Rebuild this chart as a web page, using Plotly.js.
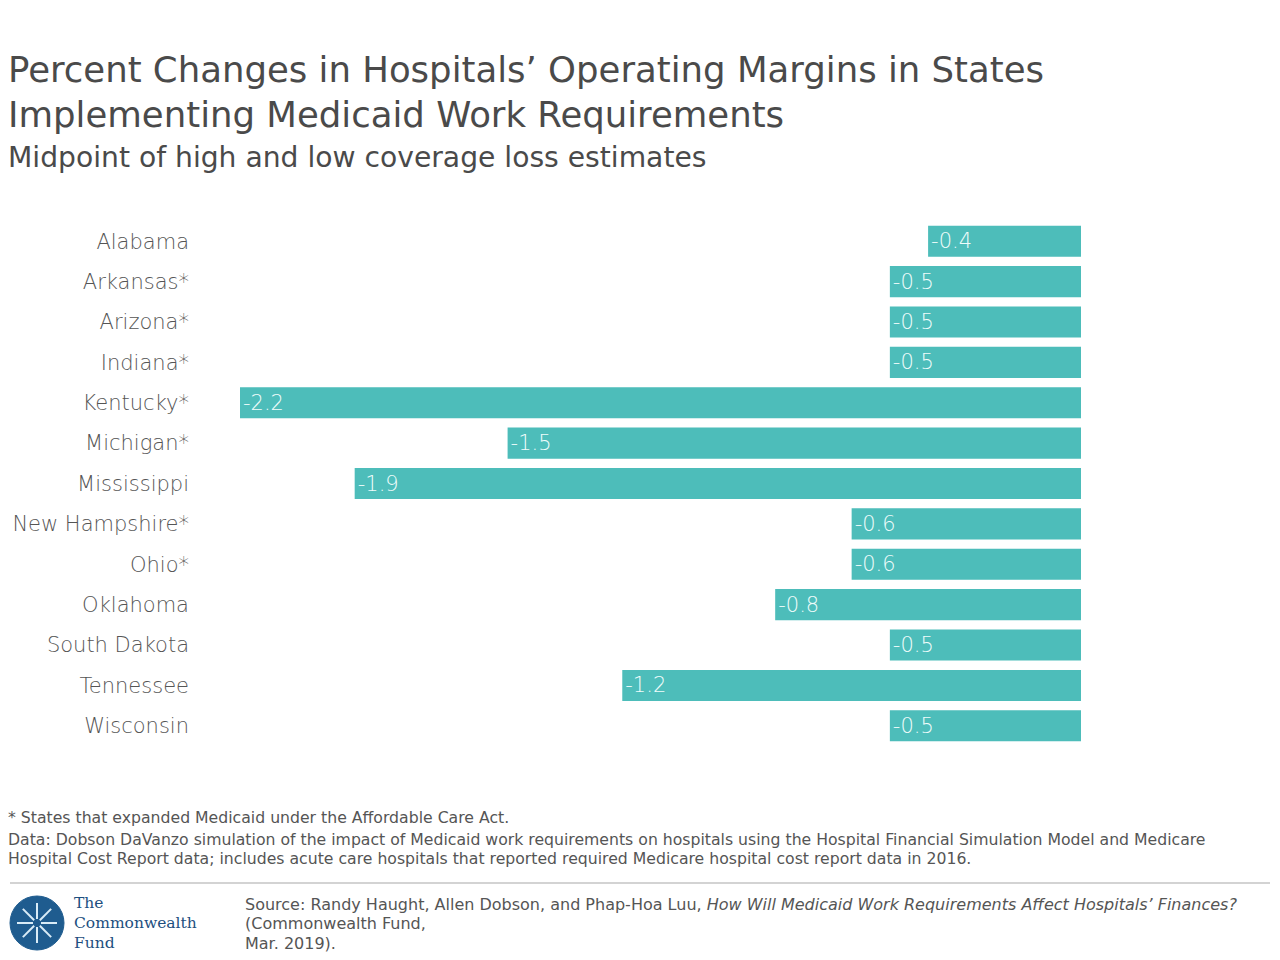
<!DOCTYPE html>
<html><head><meta charset="utf-8">
<script src="https://cdn.plot.ly/plotly-3.0.1.min.js"></script>
<style>html,body{margin:0;padding:0;background:#fff;}#chart{width:1280px;height:960px;}</style>
</head><body><div id="chart"></div>
<script>
const states = ["Alabama","Arkansas*","Arizona*","Indiana*","Kentucky*","Michigan*","Mississippi","New Hampshire*","Ohio*","Oklahoma","South Dakota","Tennessee","Wisconsin"];
const changes = [-0.4,-0.5,-0.5,-0.5,-2.2,-1.5,-1.9,-0.6,-0.6,-0.8,-0.5,-1.2,-0.5];
const barLabels = changes.map(v => v.toFixed(1));

const font = "DejaVu Sans, sans-serif";
const trace = {
  type: "bar", orientation: "h",
  x: changes, y: states,
  text: barLabels, textposition: "inside", insidetextanchor: "end",
  textfont: {family: font, size: 21, color: "#effcfb", weight: 200},
  marker: {color: "#4dbdba"},
  hoverinfo: "skip", cliponaxis: false
};

const W = 1280, H = 960;
const px = x => x / W, py = y => 1 - y / H;

const shapes = [
  {type:"line", xref:"paper", yref:"paper", x0:px(10), x1:px(1270), y0:py(883), y1:py(883), line:{color:"#c4c4c4", width:1.5}},
  {type:"circle", xref:"paper", yref:"paper", x0:px(10), x1:px(64), y0:py(950), y1:py(896), fillcolor:"#1f5c8f", line:{color:"#1f5c8f", width:1}}
];
for (let k = 0; k < 8; k++) {
  const a = k * Math.PI / 4;
  const cx = 37, cy = 923, r = 20;
  shapes.push({type:"line", xref:"paper", yref:"paper",
    x0:px(cx + 4*Math.cos(a)), y0:py(cy + 4*Math.sin(a)),
    x1:px(cx + r*Math.cos(a)), y1:py(cy + r*Math.sin(a)),
    line:{color:"#d9ecf7", width:2}});
}

const ann = (text, x, y, size, color, fam, yanchor) => ({
  text, xref:"paper", yref:"paper", x:px(x), y:py(y), xanchor:"left", yanchor:yanchor || "top",
  showarrow:false, align:"left", font:{family:fam || font, size, color}
});
const serif = "DejaVu Serif, Liberation Serif, serif";

const layout = {
  width: W, height: H,
  paper_bgcolor: "#ffffff", plot_bgcolor: "#ffffff",
  margin: {l:0, r:0, t:0, b:0, pad:0},
  showlegend: false,
  bargap: 0.23,
  xaxis: {domain:[px(240), px(1081)], range:[-2.2, 0], visible:false, fixedrange:true, automargin:false},
  yaxis: {domain:[py(746), py(221)], autorange:"reversed", showgrid:false, zeroline:false, showline:false, ticks:"",
          automargin:false, ticklabelstandoff: 50,
          tickfont:{family:font, size:21, color:"#555555", weight:200}},
  shapes,
  annotations: [
    ann("Percent Changes in Hospitals’ Operating Margins in States", 6, 70, 35.5, "#4a4a4a", font, "middle"),
    ann("Implementing Medicaid Work Requirements", 6, 115, 35.5, "#4a4a4a", font, "middle"),
    ann("Midpoint of high and low coverage loss estimates", 6, 158, 28.2, "#4a4a4a", font, "middle"),
    ann("* States that expanded Medicaid under the Affordable Care Act.", 6, 817, 15.7, "#555555", font, "middle"),
    ann("Data: Dobson DaVanzo simulation of the impact of Medicaid work requirements on hospitals using the Hospital Financial Simulation Model and Medicare", 6, 839, 15.7, "#555555", font, "middle"),
    ann("Hospital Cost Report data; includes acute care hospitals that reported required Medicare hospital cost report data in 2016.", 6, 858, 15.7, "#555555", font, "middle"),
    ann("Source: Randy Haught, Allen Dobson, and Phap-Hoa Luu, <i>How Will Medicaid Work Requirements Affect Hospitals’ Finances?</i>", 243, 904, 16, "#555555", font, "middle"),
    ann("(Commonwealth Fund,", 243, 923, 16, "#555555", font, "middle"),
    ann("Mar. 2019).", 243, 943, 16, "#555555", font, "middle"),
    ann("The<br>Commonwealth<br>Fund", 72, 923, 15.5, "#1d4f80", serif, "middle")
  ]
};

Plotly.newPlot("chart", [trace], layout, {displayModeBar:false, staticPlot:true});
</script></body></html>
